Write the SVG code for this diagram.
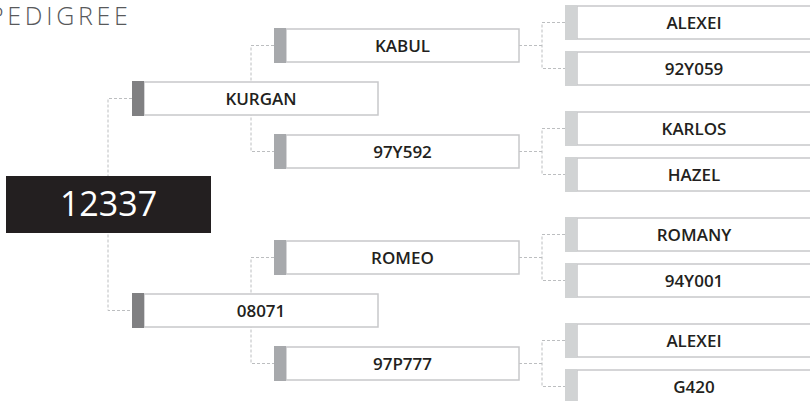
<svg xmlns="http://www.w3.org/2000/svg" width="810" height="401" viewBox="0 0 810 401">
<style>
.bg{fill:#ffffff}
.con{fill:none;stroke:#bcbec0;stroke-width:1;stroke-dasharray:3 2}
.box{fill:#ffffff;stroke:#c7c8ca;stroke-width:1.5}
.t1{fill:#808082}
.t2{fill:#a7a9ac}
.t3{fill:#d1d3d4}
.lbl{font-family:"Open Sans","Noto Sans","Liberation Sans",sans-serif;font-weight:600;font-size:17px;fill:#231f20;text-anchor:middle}
.title{font-family:"Open Sans","Noto Sans","Liberation Sans",sans-serif;font-weight:300;font-size:25px;fill:#58595b;letter-spacing:3.7px}
.root{font-family:"Open Sans","Noto Sans","Liberation Sans",sans-serif;font-weight:400;font-size:34px;fill:#ffffff;text-anchor:middle}
</style>
<rect class="bg" x="0" y="0" width="810" height="401"/>
<text class="title" x="-11" y="25">PEDIGREE</text>
<g id="connectors">
<path class="con" d="M132 98.5H108V310.5H132"/>
<path class="con" d="M274 45.5H251V151.5H274"/>
<path class="con" d="M274 257.5H251V363.5H274"/>
<path class="con" d="M519 45.5H542M565 22.5H542V68.5H565"/>
<path class="con" d="M519 151.5H542M565 128.5H542V174.5H565"/>
<path class="con" d="M519 257.5H542M565 234.5H542V280.5H565"/>
<path class="con" d="M519 363.5H542M565 340.5H542V386.5H565"/>
</g>
<g id="n-12337">
<rect x="6" y="176" width="205" height="57" fill="#231f20"/>
<text class="root" x="108.5" y="215.5">12337</text>
</g>
<g id="n-kurgan">
<rect class="box" x="144" y="82" width="234" height="33"/>
<rect class="t1" x="132" y="81" width="12" height="35"/>
<text class="lbl" x="261" y="105">KURGAN</text>
</g>
<g id="n-08071">
<rect class="box" x="144" y="294" width="234" height="33"/>
<rect class="t1" x="132" y="293" width="12" height="35"/>
<text class="lbl" x="261" y="317">08071</text>
</g>
<g id="n-kabul">
<rect class="box" x="286" y="29" width="233" height="33"/>
<rect class="t2" x="274" y="28" width="12" height="35"/>
<text class="lbl" x="402.5" y="52">KABUL</text>
</g>
<g id="n-97y592">
<rect class="box" x="286" y="135" width="233" height="33"/>
<rect class="t2" x="274" y="134" width="12" height="35"/>
<text class="lbl" x="402.5" y="158">97Y592</text>
</g>
<g id="n-romeo">
<rect class="box" x="286" y="241" width="233" height="33"/>
<rect class="t2" x="274" y="240" width="12" height="35"/>
<text class="lbl" x="402.5" y="264">ROMEO</text>
</g>
<g id="n-97p777">
<rect class="box" x="286" y="347" width="233" height="33"/>
<rect class="t2" x="274" y="346" width="12" height="35"/>
<text class="lbl" x="402.5" y="370">97P777</text>
</g>
<g id="n-alexei-1">
<rect class="box" x="577" y="6" width="236" height="33"/>
<rect class="t3" x="565" y="5" width="12" height="35"/>
<text class="lbl" x="694" y="29">ALEXEI</text>
</g>
<g id="n-92y059">
<rect class="box" x="577" y="52" width="236" height="33"/>
<rect class="t3" x="565" y="51" width="12" height="35"/>
<text class="lbl" x="694" y="75">92Y059</text>
</g>
<g id="n-karlos">
<rect class="box" x="577" y="112" width="236" height="33"/>
<rect class="t3" x="565" y="111" width="12" height="35"/>
<text class="lbl" x="694" y="135">KARLOS</text>
</g>
<g id="n-hazel">
<rect class="box" x="577" y="158" width="236" height="33"/>
<rect class="t3" x="565" y="157" width="12" height="35"/>
<text class="lbl" x="694" y="181">HAZEL</text>
</g>
<g id="n-romany">
<rect class="box" x="577" y="218" width="236" height="33"/>
<rect class="t3" x="565" y="217" width="12" height="35"/>
<text class="lbl" x="694" y="241">ROMANY</text>
</g>
<g id="n-94y001">
<rect class="box" x="577" y="264" width="236" height="33"/>
<rect class="t3" x="565" y="263" width="12" height="35"/>
<text class="lbl" x="694" y="287">94Y001</text>
</g>
<g id="n-alexei-2">
<rect class="box" x="577" y="324" width="236" height="33"/>
<rect class="t3" x="565" y="323" width="12" height="35"/>
<text class="lbl" x="694" y="347">ALEXEI</text>
</g>
<g id="n-g420">
<rect class="box" x="577" y="370" width="236" height="33"/>
<rect class="t3" x="565" y="369" width="12" height="35"/>
<text class="lbl" x="694" y="393">G420</text>
</g>
</svg>
